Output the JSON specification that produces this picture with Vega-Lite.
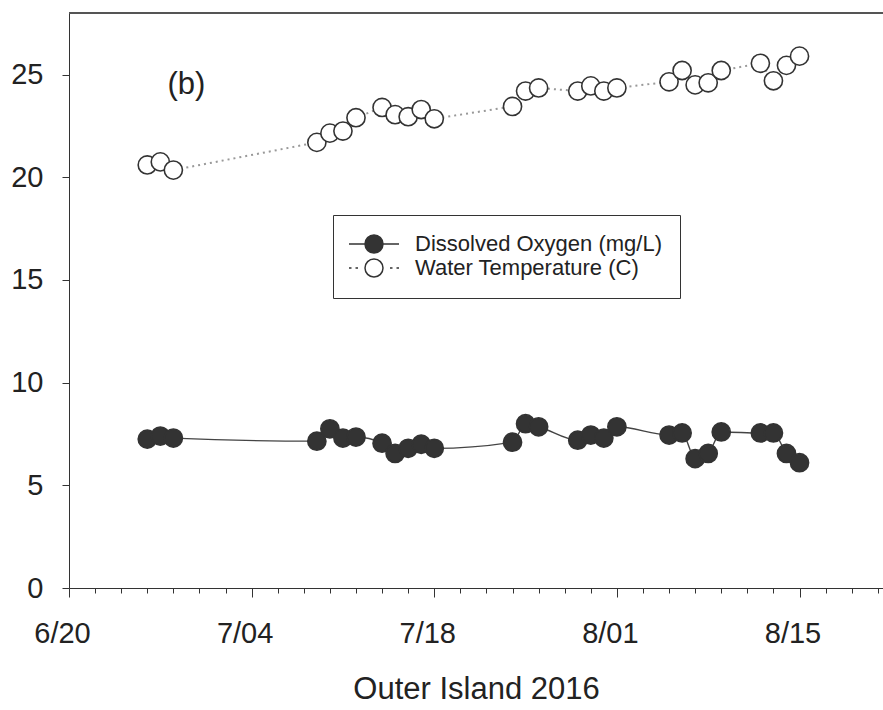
{
  "$schema": "https://vega.github.io/schema/vega-lite/v6.json",
  "autosize": "none",
  "width": 814,
  "height": 575,
  "padding": {"left": 69, "top": 13, "right": 0, "bottom": 122},
  "background": "white",
  "config": {
    "view": {"stroke": null},
    "font": "Liberation Sans",
    "axisX": {
      "values": [1466380800000, 1466553600000, 1466726400000, 1466899200000, 1467072000000, 1467244800000, 1467417600000, 1467590400000, 1467763200000, 1467936000000, 1468108800000, 1468281600000, 1468454400000, 1468627200000, 1468800000000, 1468972800000, 1469145600000, 1469318400000, 1469491200000, 1469664000000, 1469836800000, 1470009600000, 1470182400000, 1470355200000, 1470528000000, 1470700800000, 1470873600000, 1471046400000, 1471219200000, 1471392000000, 1471564800000, 1471737600000],
      "format": "%-m/%d",
      "labelExpr": "(datum.value - 1466380800000) % 1209600000 === 0 ? datum.label : ''",
      "tickSize": {"condition": {"test": "(datum.value - 1466380800000) % 1209600000 === 0", "value": 9}, "value": 5},
      "tickColor": "#333",
      "domainColor": "#333",
      "grid": false,
      "labelFont": "Liberation Sans",
      "labelFontSize": 29,
      "labelColor": "#222",
      "labelPadding": 22,
      "labelOffset": -7,
      "labelOverlap": false,
      "labelFlush": false,
      "labelBound": false,
      "titleFont": "Liberation Sans",
      "titleFontSize": 31,
      "titleFontWeight": "normal",
      "titleColor": "#222",
      "titlePadding": 26
    }
  },
  "data": {
    "values": [
      {"date": "2016-06-26", "series": "Water Temperature (C)", "value": 20.6},
      {"date": "2016-06-27", "series": "Water Temperature (C)", "value": 20.75},
      {"date": "2016-06-28", "series": "Water Temperature (C)", "value": 20.35},
      {"date": "2016-07-09", "series": "Water Temperature (C)", "value": 21.7},
      {"date": "2016-07-10", "series": "Water Temperature (C)", "value": 22.15},
      {"date": "2016-07-11", "series": "Water Temperature (C)", "value": 22.25},
      {"date": "2016-07-12", "series": "Water Temperature (C)", "value": 22.9},
      {"date": "2016-07-14", "series": "Water Temperature (C)", "value": 23.4},
      {"date": "2016-07-15", "series": "Water Temperature (C)", "value": 23.05},
      {"date": "2016-07-16", "series": "Water Temperature (C)", "value": 22.95},
      {"date": "2016-07-17", "series": "Water Temperature (C)", "value": 23.3},
      {"date": "2016-07-18", "series": "Water Temperature (C)", "value": 22.85},
      {"date": "2016-07-24", "series": "Water Temperature (C)", "value": 23.45},
      {"date": "2016-07-25", "series": "Water Temperature (C)", "value": 24.2},
      {"date": "2016-07-26", "series": "Water Temperature (C)", "value": 24.35},
      {"date": "2016-07-29", "series": "Water Temperature (C)", "value": 24.2},
      {"date": "2016-07-30", "series": "Water Temperature (C)", "value": 24.45},
      {"date": "2016-07-31", "series": "Water Temperature (C)", "value": 24.2},
      {"date": "2016-08-01", "series": "Water Temperature (C)", "value": 24.35},
      {"date": "2016-08-05", "series": "Water Temperature (C)", "value": 24.65},
      {"date": "2016-08-06", "series": "Water Temperature (C)", "value": 25.2},
      {"date": "2016-08-07", "series": "Water Temperature (C)", "value": 24.5},
      {"date": "2016-08-08", "series": "Water Temperature (C)", "value": 24.6},
      {"date": "2016-08-09", "series": "Water Temperature (C)", "value": 25.2},
      {"date": "2016-08-12", "series": "Water Temperature (C)", "value": 25.55},
      {"date": "2016-08-13", "series": "Water Temperature (C)", "value": 24.7},
      {"date": "2016-08-14", "series": "Water Temperature (C)", "value": 25.45},
      {"date": "2016-08-15", "series": "Water Temperature (C)", "value": 25.9},
      {"date": "2016-06-26", "series": "Dissolved Oxygen (mg/L)", "value": 7.25},
      {"date": "2016-06-27", "series": "Dissolved Oxygen (mg/L)", "value": 7.4},
      {"date": "2016-06-28", "series": "Dissolved Oxygen (mg/L)", "value": 7.3},
      {"date": "2016-07-09", "series": "Dissolved Oxygen (mg/L)", "value": 7.15},
      {"date": "2016-07-10", "series": "Dissolved Oxygen (mg/L)", "value": 7.75},
      {"date": "2016-07-11", "series": "Dissolved Oxygen (mg/L)", "value": 7.3},
      {"date": "2016-07-12", "series": "Dissolved Oxygen (mg/L)", "value": 7.35},
      {"date": "2016-07-14", "series": "Dissolved Oxygen (mg/L)", "value": 7.05},
      {"date": "2016-07-15", "series": "Dissolved Oxygen (mg/L)", "value": 6.55},
      {"date": "2016-07-16", "series": "Dissolved Oxygen (mg/L)", "value": 6.8},
      {"date": "2016-07-17", "series": "Dissolved Oxygen (mg/L)", "value": 7.0},
      {"date": "2016-07-18", "series": "Dissolved Oxygen (mg/L)", "value": 6.8},
      {"date": "2016-07-24", "series": "Dissolved Oxygen (mg/L)", "value": 7.1},
      {"date": "2016-07-25", "series": "Dissolved Oxygen (mg/L)", "value": 8.0},
      {"date": "2016-07-26", "series": "Dissolved Oxygen (mg/L)", "value": 7.85},
      {"date": "2016-07-29", "series": "Dissolved Oxygen (mg/L)", "value": 7.2},
      {"date": "2016-07-30", "series": "Dissolved Oxygen (mg/L)", "value": 7.45},
      {"date": "2016-07-31", "series": "Dissolved Oxygen (mg/L)", "value": 7.3},
      {"date": "2016-08-01", "series": "Dissolved Oxygen (mg/L)", "value": 7.85},
      {"date": "2016-08-05", "series": "Dissolved Oxygen (mg/L)", "value": 7.45},
      {"date": "2016-08-06", "series": "Dissolved Oxygen (mg/L)", "value": 7.55},
      {"date": "2016-08-07", "series": "Dissolved Oxygen (mg/L)", "value": 6.3},
      {"date": "2016-08-08", "series": "Dissolved Oxygen (mg/L)", "value": 6.55},
      {"date": "2016-08-09", "series": "Dissolved Oxygen (mg/L)", "value": 7.6},
      {"date": "2016-08-12", "series": "Dissolved Oxygen (mg/L)", "value": 7.55},
      {"date": "2016-08-13", "series": "Dissolved Oxygen (mg/L)", "value": 7.55},
      {"date": "2016-08-14", "series": "Dissolved Oxygen (mg/L)", "value": 6.55},
      {"date": "2016-08-15", "series": "Dissolved Oxygen (mg/L)", "value": 6.1}
    ]
  },
  "layer": [
    {
      "data": {"values": [{"edge": "top"}]},
      "mark": {"type": "rule", "stroke": "#555", "strokeWidth": 2},
      "encoding": {"y": {"datum": 28, "type": "quantitative"}}
    },
    {
      "transform": [{"filter": "datum.series === 'Water Temperature (C)'"}],
      "mark": {"type": "line", "interpolate": "linear", "stroke": "#999", "strokeWidth": 2, "strokeDash": [2, 4]},
      "encoding": {
        "x": {"field": "date", "type": "temporal", "title": "Outer Island 2016", "scale": {"type": "utc", "domain": [1466380800000, 1471772160000], "nice": false}},
        "y": {"field": "value", "type": "quantitative"}
      }
    },
    {
      "transform": [{"filter": "datum.series === 'Dissolved Oxygen (mg/L)'"}],
      "mark": {"type": "line", "interpolate": "monotone", "stroke": "#444", "strokeWidth": 1.4},
      "encoding": {
        "x": {"field": "date", "type": "temporal", "title": "Outer Island 2016"},
        "y": {"field": "value", "type": "quantitative"}
      }
    },
    {
      "mark": {"type": "point", "size": 330, "stroke": "#333", "strokeWidth": 1.6, "opacity": 1, "filled": false},
      "encoding": {
        "x": {"field": "date", "type": "temporal", "title": "Outer Island 2016"},
        "y": {
          "field": "value",
          "type": "quantitative",
          "scale": {"domain": [0, 28], "nice": false, "zero": true},
          "axis": {
            "values": [0, 5, 10, 15, 20, 25],
            "title": null,
            "grid": false,
            "tickSize": 7,
            "tickColor": "#333",
            "domainColor": "#333",
            "labelFont": "Liberation Sans",
            "labelFontSize": 29,
            "labelColor": "#222",
            "labelPadding": 19
          }
        },
        "fill": {
          "field": "series",
          "type": "nominal",
          "scale": {"domain": ["Dissolved Oxygen (mg/L)", "Water Temperature (C)"], "range": ["#333333", "#ffffff"]},
          "legend": {
            "title": null,
            "orient": "none",
            "legendX": 264,
            "legendY": 202,
            "strokeColor": "#333",
            "fillColor": "white",
            "padding": 18,
            "symbolSize": 400,
            "symbolType": {"expr": "datum.value === 'Dissolved Oxygen (mg/L)' ? 'M-2.5,0L-0.9,0M0.9,0L2.5,0M-0.9,0A0.9,0.9,0,1,1,0.9,0A0.9,0.9,0,1,1,-0.9,0Z' : 'M-2.5,0L-2.25,0M-1.85,0L-1.6,0M1.6,0L1.85,0M2.25,0L2.5,0M-0.9,0A0.9,0.9,0,1,1,0.9,0A0.9,0.9,0,1,1,-0.9,0Z'"},
            "symbolStrokeColor": "#333",
            "symbolStrokeWidth": 1.5,
            "symbolOffset": 12,
            "labelOffset": 30,
            "labelFont": "Liberation Sans",
            "labelFontSize": 22,
            "labelColor": "#222",
            "labelLimit": 400,
            "rowPadding": 0
          }
        }
      }
    },
    {
      "data": {"values": [{"label": "(b)"}]},
      "mark": {"type": "text", "font": "Liberation Sans", "fontSize": 31, "fill": "#222", "align": "center", "baseline": "middle"},
      "encoding": {
        "text": {"field": "label", "type": "nominal"},
        "x": {"datum": {"year": 2016, "month": 6, "date": 29, "utc": true}, "type": "temporal"},
        "y": {"datum": 24.5, "type": "quantitative"}
      }
    }
  ]
}
